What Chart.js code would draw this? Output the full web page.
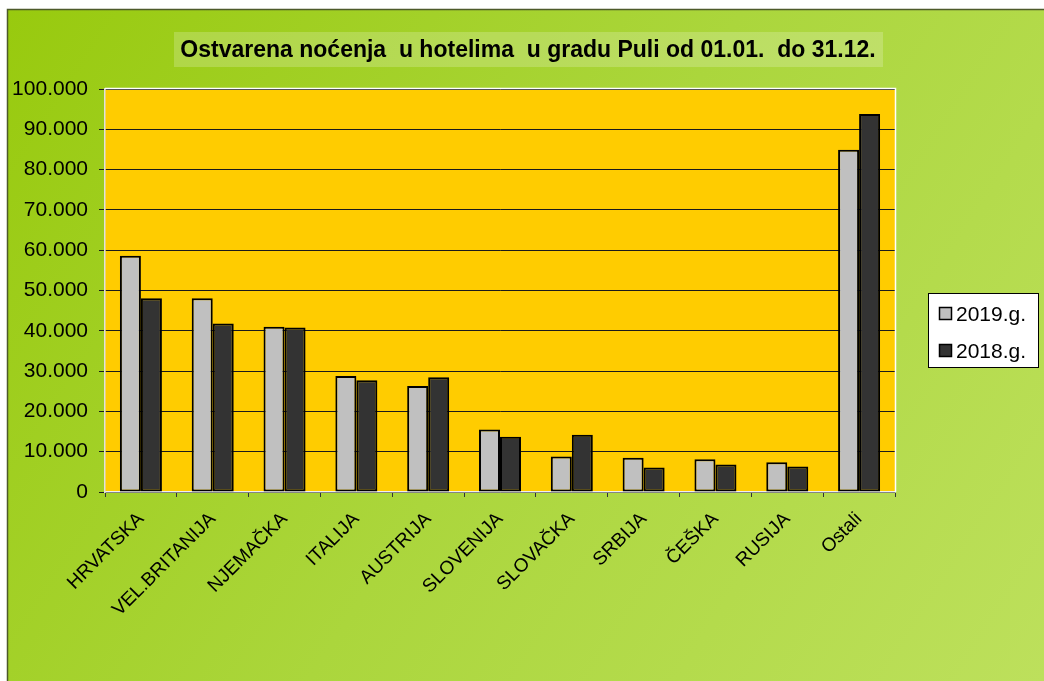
<!DOCTYPE html>
<html>
<head>
<meta charset="utf-8">
<script src="https://cdn.jsdelivr.net/npm/chart.js@4.4.1/dist/chart.umd.min.js"></script>
<style>
html,body{margin:0;padding:0;background:#fff;}
#wrap{width:1044px;height:681px;position:relative;}
</style>
</head>
<body>
<div id="wrap"><canvas id="c" width="1044" height="681"></canvas></div>
<script>
const chartTitle = 'Ostvarena noćenja  u hotelima  u gradu Puli od 01.01.  do 31.12.';
const categories = ['HRVATSKA','VEL.BRITANIJA','NJEMAČKA','ITALIJA','AUSTRIJA','SLOVENIJA','SLOVAČKA','SRBIJA','ČEŠKA','RUSIJA','Ostali'];
const seriesNames = ['2019.g.','2018.g.'];
const values2019 = [58600,48100,41000,28800,26300,15500,8800,8500,8100,7400,84900];
const values2018 = [48100,41800,40800,27700,28500,13700,14200,6100,6800,6300,93800];
const yTicks = [0,10000,20000,30000,40000,50000,60000,70000,80000,90000,100000];
const seriesColors = ['#c0c0c0','#333333'];

function fmt(v){ return String(v).replace(/\B(?=(\d{3})+(?!\d))/g,'.'); }

const bgPlugin = {
  id:'bg',
  beforeDraw(chart){
    const ctx = chart.ctx;
    ctx.save();
    ctx.fillStyle = '#ffffff';
    ctx.fillRect(0,0,1044,681);
    const g = ctx.createLinearGradient(8,9,1044,681);
    g.addColorStop(0,'#98ca0e');
    g.addColorStop(0.5,'#abd63c');
    g.addColorStop(1,'#bde05c');
    ctx.fillStyle = g;
    ctx.fillRect(8,9,1036,672);
    ctx.strokeStyle = '#4d5a2a';
    ctx.lineWidth = 1.5;
    ctx.beginPath();
    ctx.moveTo(7.5,681); ctx.lineTo(7.5,9.5); ctx.lineTo(1044,9.5);
    ctx.stroke();
    // title box
    ctx.fillStyle = 'rgba(255,255,255,0.2)';
    ctx.fillRect(174,32,709,35);
    ctx.fillStyle = '#000';
    ctx.font = 'bold 23px "Liberation Sans", Arial, sans-serif';
    ctx.textAlign = 'center';
    ctx.textBaseline = 'middle';
    ctx.fillText(chartTitle, 528, 51);
    // plot background
    const a = chart.chartArea;
    ctx.fillStyle = '#ffcc00';
    ctx.fillRect(a.left,a.top,a.right-a.left,a.bottom-a.top);
    ctx.restore();
  },
  afterDraw(chart){
    const ctx = chart.ctx;
    const a = chart.chartArea;
    ctx.save();
    ctx.strokeStyle = '#ffffff';
    ctx.lineWidth = 1.5;
    ctx.beginPath();
    ctx.moveTo(a.left, a.top-0.5); ctx.lineTo(a.right+0.5, a.top-0.5); ctx.lineTo(a.right+0.5, a.bottom);
    ctx.stroke();
    // legend
    ctx.fillStyle = '#ffffff';
    ctx.fillRect(928,293,111,75);
    ctx.strokeStyle = '#000';
    ctx.lineWidth = 1;
    ctx.strokeRect(928.5,293.5,110,74);
    ctx.font = '21px "Liberation Sans", Arial, sans-serif';
    ctx.textAlign = 'left';
    ctx.textBaseline = 'alphabetic';
    const ys = [307,344];
    for (let i=0;i<2;i++){
      ctx.fillStyle = seriesColors[i];
      ctx.fillRect(939.5,ys[i]+0.5,12,12);
      ctx.strokeStyle = '#000';
      ctx.lineWidth = 1.5;
      ctx.strokeRect(939.5,ys[i]+0.5,12,12);
      ctx.fillStyle = '#000';
      ctx.fillText(seriesNames[i], 956, ys[i]+14);
    }
    ctx.restore();
  }
};

new Chart(document.getElementById('c'), {
  type:'bar',
  data:{
    labels:categories,
    datasets:[
      {label:seriesNames[0], data:values2019, backgroundColor:seriesColors[0], borderColor:'#000', borderWidth:2, borderSkipped:false},
      {label:seriesNames[1], data:values2018, backgroundColor:seriesColors[1], borderColor:'#000', borderWidth:2, borderSkipped:false}
    ]
  },
  options:{
    responsive:false,
    animation:false,
    devicePixelRatio:1,
    layout:{padding:{left:8,right:149,top:89,bottom:0}},
    plugins:{legend:{display:false}, title:{display:false}, tooltip:{enabled:false}},
    datasets:{bar:{barPercentage:1.0, categoryPercentage:0.585}},
    scales:{
      x:{
        grid:{display:true, drawOnChartArea:false, drawTicks:true, tickLength:5, color:'#333', offset:true},
        border:{display:true, color:'#f0f0f0', width:1.5},
        ticks:{color:'#000', minRotation:45, maxRotation:45, autoSkip:false, padding:11,
          font:{family:'"Liberation Sans", Arial, sans-serif', size:19}},
        afterFit(s){ s.height = 189; }
      },
      y:{
        min:0, max:100000,
        afterBuildTicks(s){ s.ticks = yTicks.map(v=>({value:v})); },
        grid:{color:'#1a1a1a', lineWidth:1, drawTicks:true, tickLength:6},
        border:{display:true, color:'#e0e0e0', width:1.5},
        ticks:{color:'#000', padding:11, callback:(v)=>fmt(v),
          font:{family:'"Liberation Sans", Arial, sans-serif', size:21}},
        afterFit(s){ s.width = 97; }
      }
    }
  },
  plugins:[bgPlugin]
});
</script>
</body>
</html>
